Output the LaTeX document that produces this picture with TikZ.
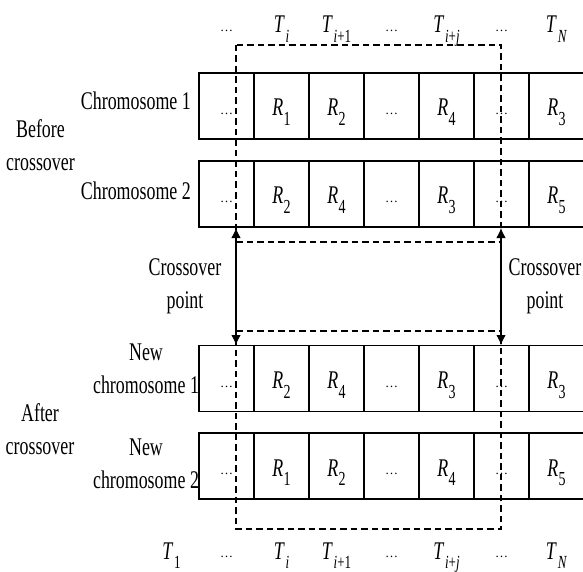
\documentclass[tikz,border=0pt]{standalone}
\usepackage{fontspec}
\setmainfont{Liberation Serif}
\usepackage{graphicx}
\usetikzlibrary{arrows.meta}
\newcommand\vst[1]{\scalebox{1}[1.42]{#1}}
\newcommand\Rs[1]{\vst{\textit{R}\kern0.3pt\raisebox{-7pt}{\fontsize{14}{14}\selectfont #1}}}
\newcommand\Ts[1]{\vst{\textit{T}\kern0.8pt\raisebox{-7pt}{\fontsize{13}{13}\selectfont #1}}}
\newcommand\dts{\raisebox{1.5pt}{\fontsize{13}{13}\selectfont\textellipsis}}
\newcommand\twol[2]{\vst{\begin{tabular}{@{}c@{}}#1\\#2\end{tabular}}}
\begin{document}
\begin{tikzpicture}[x=1pt,y=-1pt,
  cell/.style={draw, line width=1.1pt, minimum width=55pt, minimum height=66pt, inner sep=0pt, outer sep=0pt},
  txt/.style={inner sep=0pt, font=\fontsize{17.9}{23.4}\selectfont},
  dashline/.style={line width=1.1pt, dash pattern=on 6.5pt off 4pt},
  xarrow/.style={line width=1.1pt, {Latex[length=10pt,width=9.5pt]}-{Latex[length=10pt,width=9.5pt]}}]
\useasboundingbox (0,0) rectangle (583,572);

% chromosome rows
\foreach \k/\lab in {1/\dts, 2/\Rs{1}, 3/\Rs{2}, 4/\dts, 5/\Rs{4}, 6/\dts, 7/\Rs{3}} {
  \node[cell] (r1c\k) at ({226.5+55*(\k-1)},106) {};
  \node[txt, anchor=base] (r1t\k) at ([yshift=-10pt]r1c\k.center) {\lab};
}
\foreach \k/\lab in {1/\dts, 2/\Rs{2}, 3/\Rs{4}, 4/\dts, 5/\Rs{3}, 6/\dts, 7/\Rs{5}} {
  \node[cell] (r2c\k) at ({226.5+55*(\k-1)},194) {};
  \node[txt, anchor=base] (r2t\k) at ([yshift=-10pt]r2c\k.center) {\lab};
}
\foreach \k/\lab in {1/\dts, 2/\Rs{2}, 3/\Rs{4}, 4/\dts, 5/\Rs{3}, 6/\dts, 7/\Rs{3}} {
  \node[cell] (r3c\k) at ({226.5+55*(\k-1)},378.5) {};
  \node[txt, anchor=base] (r3t\k) at ([yshift=-10pt]r3c\k.center) {\lab};
}
\foreach \k/\lab in {1/\dts, 2/\Rs{1}, 3/\Rs{2}, 4/\dts, 5/\Rs{4}, 6/\dts, 7/\Rs{5}} {
  \node[cell] (r4c\k) at ({226.5+55*(\k-1)},466) {};
  \node[txt, anchor=base] (r4t\k) at ([yshift=-10pt]r4c\k.center) {\lab};
}

% column labels
\foreach \k/\lab in {1/\dts, 2/\Ts{\textit{i}}, 3/\Ts{\textit{i}+1}, 4/\dts, 5/\Ts{\textit{i}+\textit{j}}, 6/\dts, 7/\Ts{\textit{N}}}
  \node[txt, anchor=base] (top\k) at ({226.5+55*(\k-1)},33) {\lab};
\foreach \k/\lab in {0/\Ts{1}, 1/\dts, 2/\Ts{\textit{i}}, 3/\Ts{\textit{i}+1}, 4/\dts, 5/\Ts{\textit{i}+\textit{j}}, 6/\dts, 7/\Ts{\textit{N}}}
  \node[txt, anchor=base] (bot\k) at ({226.5+55*(\k-1)},559) {\lab};

% row labels
\node[txt, anchor=base east] (lc1) at (191,110) {\vst{Chromosome 1}};
\node[txt, anchor=base east] (lc2) at (191,199) {\vst{Chromosome 2}};
\node[txt] (lnc1) at (146,370) {\twol{New}{chromosome 1}};
\node[txt] (lnc2) at (146,465) {\twol{New}{chromosome 2}};
\node[txt] (lbefore) at (40.5,147.5) {\twol{Before}{crossover}};
\node[txt] (lafter) at (40,431) {\twol{After}{crossover}};
\node[txt] (lcpl) at (185,285.5) {\twol{Crossover}{point}};
\node[txt] (lcpr) at (545,285.5) {\twol{Crossover}{point}};

% dashed crossover region
\coordinate (dTL) at (236,45);
\coordinate (dBR) at (501,529);
\coordinate (hl1) at (236,242);
\coordinate (hr1) at (501,242);
\coordinate (hl2) at (236,331);
\coordinate (hr2) at (501,331);
\draw[dashline] (dTL) rectangle (dBR);
\draw[dashline] (hl1) -- (hr1);
\draw[dashline] (hl2) -- (hr2);

% crossover point arrows
\coordinate (xl1) at (236,228);
\coordinate (xl2) at (236,345);
\coordinate (xr1) at (501,228);
\coordinate (xr2) at (501,345);
\draw[xarrow] (xl1) -- (xl2);
\draw[xarrow] (xr1) -- (xr2);
\end{tikzpicture}
\end{document}
